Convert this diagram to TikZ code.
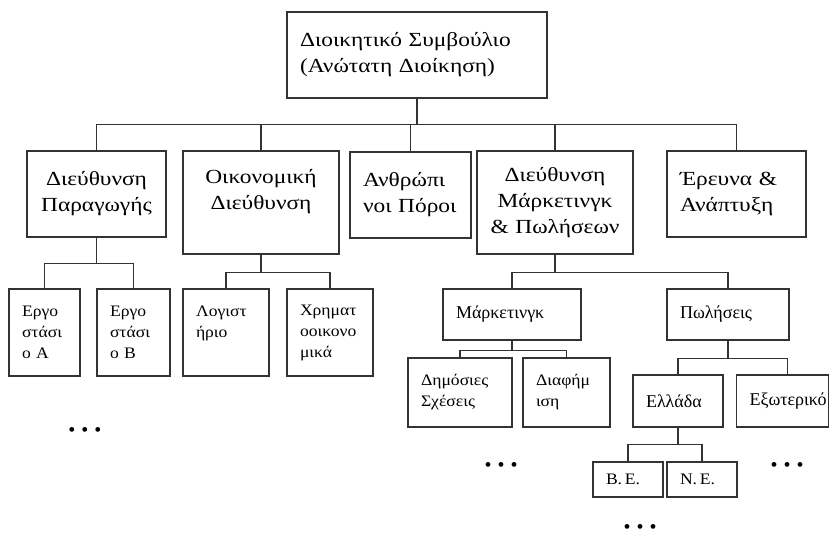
\documentclass[tikz,border=0pt]{standalone}
\usepackage{fontspec}
\setmainfont{Liberation Serif}
\newfontfamily\widefont{Liberation Serif}[FakeStretch=1.17]
\newfontfamily\semiwidefont{Liberation Serif}[FakeStretch=1.1]
\usepackage{tikz}

\begin{document}
\begin{tikzpicture}[x=1pt,y=-1pt,
  orgbox/.style={draw=black!80,line width=1.2pt,fill=white,
    inner xsep=13pt,inner ysep=0pt,align=left},
  midbox/.style={orgbox,align=center,inner xsep=6pt},
  bigtext/.style={font=\widefont\fontsize{20}{26}\selectfont},
  midtext/.style={font=\fontsize{18}{23}\selectfont},
  smalltext/.style={font=\semiwidefont\fontsize{16}{21}\selectfont},
  link/.style={draw=black!80,line width=1.2pt},
  dots/.style={font=\fontsize{20}{20}\selectfont,inner sep=0pt}]

 \useasboundingbox (0,0) rectangle (831,539);

 %% board
 \node[orgbox,bigtext,text width=234pt,minimum height=86pt] (board) at (417,55)
   {Διοικητικό Συμβούλιο\\(Ανώτατη Διοίκηση)};

 %% first level
 \node[midbox,bigtext,text width=127pt,minimum height=86pt] (prod) at (96.5,194)
   {Διεύθυνση\\Παραγωγής};
 \node[midbox,bigtext,text width=144pt,minimum height=103pt] (fin) at (261,202.5)
   {Οικονομική\\Διεύθυνση\\\mbox{}};
 \node[orgbox,bigtext,text width=95pt,minimum height=86pt] (hr) at (410.5,195)
   {Ανθρώπι\\νοι Πόροι};
 \node[midbox,bigtext,text width=144pt,minimum height=103pt] (mksales) at (555,202.5)
   {Διεύθυνση\\Μάρκετινγκ\\\& Πωλήσεων};
 \node[orgbox,bigtext,text width=113pt,minimum height=86pt] (rnd) at (736.5,194)
   {Έρευνα \&\\Ανάπτυξη};

 %% production
 \node[orgbox,smalltext,text width=45pt,minimum height=87pt] (plantA) at (44.5,332.5)
   {Εργο\\στάσι\\ο Α};
 \node[orgbox,smalltext,text width=47pt,minimum height=87pt] (plantB) at (133.5,332.5)
   {Εργο\\στάσι\\ο Β};

 %% finance
 \node[orgbox,smalltext,text width=60pt,minimum height=87pt] (acct) at (226,332.5)
   {Λογιστ\\ήριο\\\mbox{}};
 \node[orgbox,smalltext,text width=60pt,minimum height=87pt] (corpfin) at (330,332.5)
   {Χρηματ\\οοικονο\\μικά};

 %% marketing & sales
 \node[orgbox,midtext,text width=112pt,minimum height=51pt] (mkt) at (512,314.5)
   {Μάρκετινγκ};
 \node[orgbox,midtext,text width=96pt,minimum height=51pt] (sales) at (728,314.5)
   {Πωλήσεις};

 \node[orgbox,smalltext,text width=78pt,minimum height=69pt] (pr) at (460,392.5)
   {Δημόσιες\\Σχέσεις};
 \node[orgbox,smalltext,text width=61pt,minimum height=69pt] (adv) at (566.5,392.5)
   {Διαφήμ\\ιση};

 \node[orgbox,midtext,text width=64pt,minimum height=52pt] (greece) at (678,401)
   {Ελλάδα};
 \node[orgbox,midtext,text width=66pt,minimum height=52pt] (abroad) at (782.5,401)
   {Εξωτερικό};

 \node[orgbox,smalltext,text width=44pt,minimum height=35pt] (north) at (628,479.5)
   {Β.\,Ε.};
 \node[orgbox,smalltext,text width=44pt,minimum height=35pt] (south) at (702,479.5)
   {Ν.\,Ε.};

 %% links
 \foreach \c in {prod,fin,hr,mksales,rnd}
   \draw[link] (board.south) -- ++(0,26) -| (\c.north);
 \foreach \c in {plantA,plantB}
   \draw[link] (prod.south) -- ++(0,26) -| (\c.north);
 \foreach \c in {acct,corpfin}
   \draw[link] (fin.south) -- ++(0,18) -| (\c.north);
 \foreach \c in {mkt,sales}
   \draw[link] (mksales.south) -- ++(0,18) -| (\c.north);
 \foreach \c in {pr,adv}
   \draw[link] (mkt.south) -- ++(0,10) -| (\c.north);
 \draw[link] (sales.south) -- ++(0,18) -| (greece.north);
 \draw[link] (sales.south) -- ++(0,18) -| ([xshift=5pt]abroad.north);
 \foreach \c in {north,south}
   \draw[link] (greece.south) -- ++(0,17) -| (\c.north);

 %% more units
 \node[dots] (more1) at (85,432) {\textbullet\hspace{6pt}\textbullet\hspace{6pt}\textbullet};
 \node[dots] (more2) at (501,467) {\textbullet\hspace{6pt}\textbullet\hspace{6pt}\textbullet};
 \node[dots] (more3) at (787,467) {\textbullet\hspace{6pt}\textbullet\hspace{6pt}\textbullet};
 \node[dots] (more4) at (640,529) {\textbullet\hspace{6pt}\textbullet\hspace{6pt}\textbullet};

\end{tikzpicture}
\end{document}
